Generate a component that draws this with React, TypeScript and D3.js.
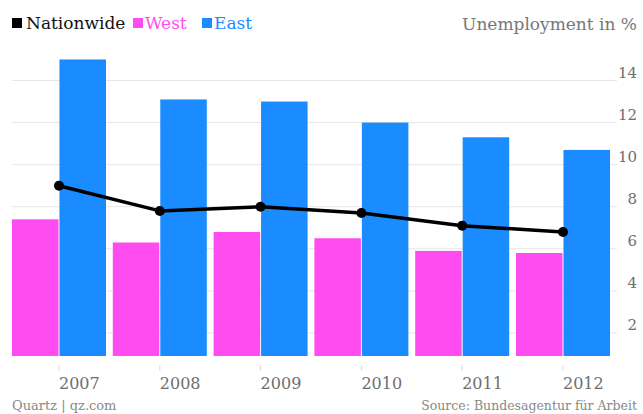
import React from "react";
import * as d3 from "d3";

const years = ["2007", "2008", "2009", "2010", "2011", "2012"];
const nationwide = [9.0, 7.8, 8.0, 7.7, 7.1, 6.8];
const west = [7.4, 6.3, 6.8, 6.5, 5.9, 5.8];
const east = [15.0, 13.1, 13.0, 12.0, 11.3, 10.7];
const yTicks = [2, 4, 6, 8, 10, 12, 14];

const W = 643;
const H = 414;
const PINK = "#ff4cf0";
const BLUE = "#1a8cff";
const FONT = "'DejaVu Serif', serif";

export default function App() {
  const y = d3.scaleLinear().domain([0, 14]).range([375, 80.5]);
  const plotBottom = 356;
  const x = d3.scaleBand<string>().domain(years).range([12, 610]).paddingInner(0.0675).paddingOuter(0);
  const sub = d3.scaleBand<string>().domain(["west", "east"]).range([0, x.bandwidth()]).paddingInner(0.02);
  const line = d3
    .line<number>()
    .x((_, i) => (x(years[i]) as number) + x.bandwidth() / 2)
    .y((d) => y(d));

  return (
    <svg width={W} height={H} style={{ position: "absolute", left: 0, top: 0, background: "#fff" }}>
      {yTicks.map((t) => (
        <g key={t}>
          <line x1={12} x2={617} y1={y(t)} y2={y(t)} stroke="#e6e6e6" strokeWidth={1} />
          <text x={637} y={y(t) - 3} textAnchor="end" fontFamily={FONT} fontSize={15} fill="#6e6e6e">
            {t}
          </text>
        </g>
      ))}
      {years.map((yr, i) => {
        const x0 = x(yr) as number;
        return (
          <g key={yr}>
            <rect x={x0 + (sub("west") as number)} y={y(west[i])} width={sub.bandwidth()} height={plotBottom - y(west[i])} fill={PINK} />
            <rect x={x0 + (sub("east") as number)} y={y(east[i])} width={sub.bandwidth()} height={plotBottom - y(east[i])} fill={BLUE} />
            <line x1={x0 + x.bandwidth() / 2} x2={x0 + x.bandwidth() / 2} y1={365} y2={371} stroke="#dddddd" />
            <text x={x0 + x.bandwidth() / 2} y={389} fontFamily={FONT} fontSize={16} fill="#6e6e6e">
              {yr}
            </text>
          </g>
        );
      })}
      <path d={line(nationwide) || ""} fill="none" stroke="#000" strokeWidth={3.5} strokeLinejoin="round" />
      {nationwide.map((v, i) => (
        <circle key={i} cx={(x(years[i]) as number) + x.bandwidth() / 2} cy={y(v)} r={5} fill="#000" />
      ))}
      <g fontFamily={FONT} fontSize={17}>
        <rect x={12} y={18} width={10} height={10} fill="#000" />
        <text x={26} y={29} fill="#111">Nationwide</text>
        <rect x={133} y={18} width={10} height={10} fill={PINK} />
        <text x={145} y={29} fill={PINK}>West</text>
        <rect x={202} y={18} width={10} height={10} fill={BLUE} />
        <text x={214} y={29} fill={BLUE}>East</text>
      </g>
      <text x={637} y={30} textAnchor="end" fontFamily={FONT} fontSize={17} fill="#777">
        Unemployment in %
      </text>
      <text x={12} y={410} fontFamily={FONT} fontSize={13} fill="#888">
        Quartz | qz.com
      </text>
      <text x={637} y={410} textAnchor="end" fontFamily={FONT} fontSize={12.5} fill="#888">
        Source: Bundesagentur für Arbeit
      </text>
    </svg>
  );
}
